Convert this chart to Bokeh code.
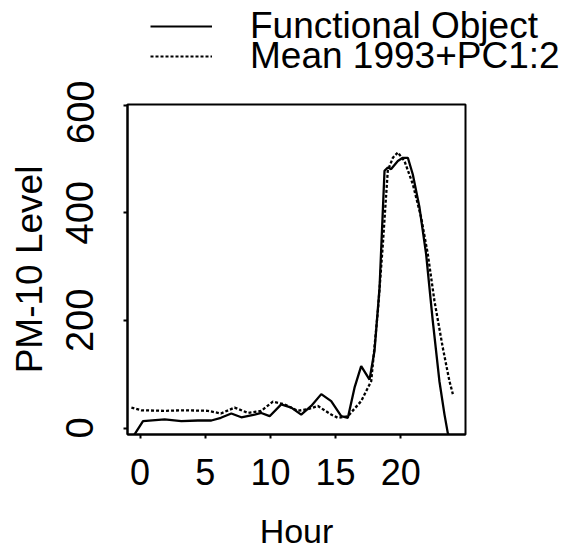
from bokeh.plotting import figure
from bokeh.models import Range1d, FixedTicker, Legend, LegendItem
from bokeh.layouts import column
from bokeh.embed import file_html
from bokeh.resources import INLINE

# Functional object (solid)
hour_obj = [-0.66, 0.23, 1.89, 3.17, 4.44, 5.47, 6.2, 7.0, 7.77, 8.79, 9.3, 9.94,
            10.83, 11.6, 12.36, 13.13, 13.9, 14.66, 15.43, 15.94, 16.45, 16.96,
            17.6, 17.98, 18.37, 18.75, 19.0, 19.26, 19.77, 20.15, 20.54, 20.92,
            21.43, 21.94, 22.45, 22.96, 23.35, 23.6, 23.8]
pm_obj = [-21, 13, 16, 13, 14, 14, 19, 27, 20, 25, 28, 22,
          44, 38, 25, 41, 63, 50, 22, 19, 75, 115,
          90, 143, 261, 478, 484, 481, 496, 502, 502, 471,
          410, 323, 199, 87, 25, -9, -20]

# Mean 1993 + PC1:2 (dotted)
hour_fit = [-0.66, 0.1, 1.89, 3.42, 5.2, 6.2, 7.25, 8.28, 9.3, 10.19, 11.08,
            12.1, 12.87, 13.64, 14.66, 15.17, 15.94, 16.96, 17.73, 18.24, 18.62,
            19.0, 19.39, 19.77, 20.28, 20.92, 21.56, 22.07, 22.58, 23.22, 23.73, 23.99]
pm_fit = [38, 33, 32, 33, 32, 27, 38, 28, 32, 49, 44,
          32, 35, 41, 25, 19, 22, 50, 87, 217, 341,
          478, 502, 512, 496, 453, 391, 323, 236, 149, 87, 63]

x_ticks = [0, 5, 10, 15, 20]
y_ticks = [0, 200, 400, 600]
legend_labels = ["Functional Object", "Mean 1993+PC1:2"]

FONT = "Liberation Sans"
LEG_H = 80

# ---- legend strip (separate figure above the plot) ----
lf = figure(width=568, height=LEG_H, x_range=Range1d(100, 101), y_range=Range1d(0, 1),
            output_backend="svg", toolbar_location=None,
            min_border_left=0, min_border_right=0, min_border_top=0, min_border_bottom=0)
lf.frame_align = False
lf.axis.visible = False
lf.xgrid.visible = False
lf.ygrid.visible = False
lf.outline_line_color = None
lf.background_fill_color = "white"
lf.border_fill_color = "white"
lr1 = lf.line(hour_obj, pm_obj, line_color="black", line_width=2)
lr2 = lf.line(hour_fit, pm_fit, line_color="black", line_width=2, line_dash="3 2")


def make_legend(label, renderer, bottom):
    return Legend(items=[LegendItem(label=label, renderers=[renderer])],
                  location=(150, bottom), orientation="vertical",
                  glyph_width=62, glyph_height=40, label_standoff=38,
                  label_text_font=FONT, label_text_font_size="37px",
                  label_text_color="black", padding=0, margin=0,
                  border_line_color=None, background_fill_alpha=0)


lf.add_layout(make_legend(legend_labels[0], lr1, 33), "center")
lf.add_layout(make_legend(legend_labels[1], lr2, 3), "center")

# ---- main plot ----
p = figure(frame_width=338, frame_height=330,
           x_range=Range1d(-0.96, 24.96), y_range=Range1d(-12, 601),
           output_backend="svg", toolbar_location=None,
           min_border_left=127, min_border_top=104 - LEG_H,
           min_border_right=103, min_border_bottom=100)
p.frame_align = False

p.xgrid.visible = False
p.ygrid.visible = False
p.outline_line_color = "black"
p.outline_line_width = 2
p.background_fill_color = "white"
p.border_fill_color = "white"

r1 = p.line(hour_obj, pm_obj, line_color="black", line_width=2.3)
r2 = p.line(hour_fit, pm_fit, line_color="black", line_width=2.3, line_dash="3 2")

for ax in (p.xaxis[0], p.yaxis[0]):
    ax.axis_line_color = "black"
    ax.axis_line_width = 2
    ax.major_tick_line_color = "black"
    ax.major_tick_line_width = 2
    ax.major_tick_out = 4
    ax.major_tick_in = 0
    ax.minor_tick_line_color = None
    ax.major_label_text_font = FONT
    ax.major_label_text_color = "black"
    ax.axis_label_text_font = FONT
    ax.axis_label_text_font_style = "normal"
    ax.axis_label_text_color = "black"

p.xaxis.ticker = FixedTicker(ticks=x_ticks)
p.yaxis.ticker = FixedTicker(ticks=y_ticks)
p.xaxis.major_label_text_font_size = "36px"
p.yaxis.major_label_text_font_size = "38px"
p.xaxis.major_label_standoff = 20
p.yaxis.major_label_standoff = 30
p.yaxis.major_label_orientation = "parallel"
p.xaxis.axis_label = "Hour"
p.yaxis.axis_label = "PM-10 Level"
p.xaxis.axis_label_text_font_size = "34px"
p.yaxis.axis_label_text_font_size = "37px"
p.xaxis.axis_label_standoff = 24
p.yaxis.axis_label_standoff = 14

layout = column(lf, p, spacing=0)
open("out.html", "w").write(file_html(layout, INLINE))
